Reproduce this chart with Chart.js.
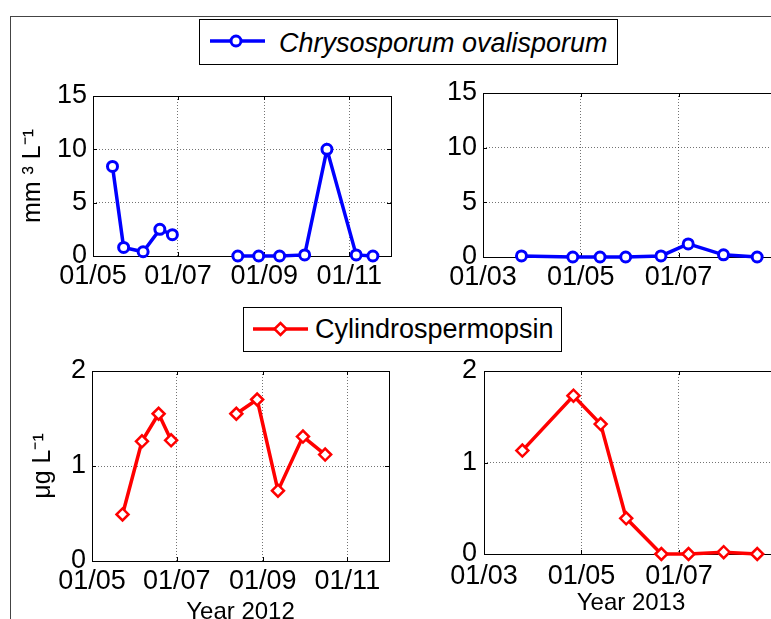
<!DOCTYPE html>
<html>
<head>
<meta charset="utf-8">
<script src="https://cdn.jsdelivr.net/npm/chart.js@4.4.1/dist/chart.umd.min.js"></script>
<style>
  html, body { margin: 0; padding: 0; background: #fff; overflow: hidden; }
  #figura { position: relative; width: 771px; height: 619px; overflow: hidden; font-family: "Liberation Sans", Arial, sans-serif; }
  #moldura { position: absolute; left: 10px; top: 16px; width: 820px; height: 700px; border: 1px solid #444; }
  canvas { position: absolute; }
  .legenda { position: absolute; border: 1px solid #000; background: #fff; box-sizing: border-box; }
  .legenda svg { position: absolute; left: 0; top: 0; }
  .legenda span { position: absolute; font-size: 27px; line-height: 1; white-space: nowrap; color: #000; }
</style>
</head>
<body>
<div id="figura">
  <div id="moldura"></div>
  <canvas id="gChrys2012" width="420" height="260" style="left:0;top:70px"></canvas>
  <canvas id="gChrys2013" width="400" height="260" style="left:400px;top:70px"></canvas>
  <canvas id="gCylin2012" width="420" height="290" style="left:0;top:345px"></canvas>
  <canvas id="gCylin2013" width="400" height="290" style="left:400px;top:345px"></canvas>

  <div class="legenda" style="left:199px;top:19px;width:419px;height:46px">
    <svg width="120" height="44">
      <line x1="10" y1="21" x2="65" y2="21" stroke="#0000ff" stroke-width="3.5"/>
      <circle cx="36" cy="21" r="5" fill="#fff" stroke="#0000ff" stroke-width="3"/>
    </svg>
    <span style="left:79px;top:10px;font-style:italic">Chrysosporum ovalisporum</span>
  </div>
  <div class="legenda" style="left:243px;top:307px;width:319px;height:45px">
    <svg width="120" height="43">
      <line x1="9" y1="21" x2="64" y2="21" stroke="#ff0000" stroke-width="3.5"/>
      <path d="M30.5 21 L36.5 15 L42.5 21 L36.5 27 Z" fill="#fff" stroke="#ff0000" stroke-width="2.5"/>
    </svg>
    <span style="left:71px;top:8px">Cylindrospermopsin</span>
  </div>
</div>

<script>
// Datas de amostragem (a entrada com null marca a interrupção da série)
const datas2012 = ['2012-05-15', '2012-05-23', '2012-06-06', '2012-06-18', '2012-06-27', '2012-07-20',
  '2012-08-13', '2012-08-28', '2012-09-12', '2012-09-30', '2012-10-16', '2012-11-06', '2012-11-18'];
const datas2013 = ['2013-03-25', '2013-04-26', '2013-05-13', '2013-05-29', '2013-06-20', '2013-07-07',
  '2013-07-29', '2013-08-19'];

// Biovolume de Chrysosporum ovalisporum (mm3 L-1)
const chrysos2012 = [8.4, 0.8, 0.4, 2.5, 2.0, null, 0, 0, 0, 0.1, 10.0, 0.1, 0];
const chrysos2013 = [0.1, 0, 0, 0, 0.1, 1.2, 0.2, 0];

// Cilindrospermopsina (ug L-1)
const cylindro2012 = [null, 0.49, 1.26, 1.55, 1.27, null, 1.55, 1.70, 0.74, 1.31, 1.12, null, null];
const cylindro2013 = [1.13, 1.73, 1.42, 0.39, 0, 0, 0.02, 0];

// Eixos
const limites2012 = ['2012-05-01', '2012-12-01'];
const limites2013 = ['2013-03-01', '2013-09-01'];
const marcas2012 = ['2012-05-01', '2012-07-01', '2012-09-01', '2012-11-01'];
const marcas2013 = ['2013-03-01', '2013-05-01', '2013-07-01'];
const rotulos2012 = ['01/05', '01/07', '01/09', '01/11'];
const rotulos2013 = ['01/03', '01/05', '01/07'];
const ticksChrys = [0, 5, 10, 15];
const ticksCylin = [0, 1, 2];

const dia = s => Date.parse(s) / 864e5;

Chart.defaults.font.family = '"Liberation Sans", Arial, sans-serif';
Chart.defaults.color = '#000';

// Caixa preta com marcas internas, estilo MATLAB
const caixaEixos = {
  id: 'caixaEixos',
  beforeDatasetsDraw(chart) {
    const { ctx, chartArea: a, scales: { x, y } } = chart;
    ctx.save();
    ctx.strokeStyle = '#000';
    ctx.lineWidth = 1;
    ctx.beginPath();
    x.ticks.forEach(t => {
      const p = Math.round(x.getPixelForValue(t.value)) + 0.5;
      ctx.moveTo(p, a.bottom); ctx.lineTo(p, a.bottom - 4);
      ctx.moveTo(p, a.top); ctx.lineTo(p, a.top + 4);
    });
    y.ticks.forEach(t => {
      const p = Math.round(y.getPixelForValue(t.value)) + 0.5;
      ctx.moveTo(a.left, p); ctx.lineTo(a.left + 4, p);
      ctx.moveTo(a.right, p); ctx.lineTo(a.right - 4, p);
    });
    ctx.stroke();
    ctx.strokeRect(Math.round(a.left) + 0.5, Math.round(a.top) + 0.5, Math.round(a.width), Math.round(a.height));
    ctx.restore();
  }
};

function criarGrafico(id, c) {
  const pontos = c.datas.map((d, i) => ({ x: dia(d), y: c.valores[i] }));
  const grade = { color: 'rgba(0,0,0,0.55)', lineWidth: 1, drawTicks: false };
  const borda = { display: false, dash: [1, 2] };
  return new Chart(document.getElementById(id), {
    type: 'line',
    data: {
      datasets: [{
        data: pontos,
        borderColor: c.cor,
        borderWidth: 3.5,
        tension: 0,
        clip: false,
        pointStyle: c.marcador,
        pointRadius: c.raio,
        pointBorderWidth: c.marcador === 'circle' ? 3 : 2.5,
        pointBackgroundColor: '#fff',
        pointBorderColor: c.cor
      }]
    },
    options: {
      responsive: false,
      animation: false,
      events: [],
      layout: { padding: c.margem },
      plugins: { legend: { display: false }, tooltip: { enabled: false } },
      scales: {
        x: {
          type: 'linear',
          min: dia(c.limites[0]),
          max: dia(c.limites[1]),
          grid: grade,
          border: borda,
          afterBuildTicks: s => { s.ticks = c.marcas.map(m => ({ value: dia(m) })); },
          afterFit: s => { s.height = c.altX; },
          ticks: { font: { size: 27 }, padding: c.padX, maxRotation: 0, callback: (v, i) => c.rotulos[i] },
          title: c.tituloX
            ? { display: true, text: c.tituloX, font: { size: 24 }, padding: { top: 0, bottom: c.padTituloX } }
            : { display: false }
        },
        y: {
          type: 'linear',
          min: c.ticksY[0],
          max: c.ticksY[c.ticksY.length - 1],
          grid: grade,
          border: borda,
          afterBuildTicks: s => { s.ticks = c.ticksY.map(v => ({ value: v })); },
          afterFit: s => { s.width = c.largY; },
          ticks: { font: { size: 27 }, padding: c.padY },
          title: c.tituloY
            ? { display: true, text: c.tituloY, font: { size: 25 }, padding: { top: c.padTituloY, bottom: 0 } }
            : { display: false }
        }
      }
    },
    plugins: [caixaEixos]
  });
}

criarGrafico('gChrys2012', {
  datas: datas2012, valores: chrysos2012, cor: '#0000ff', marcador: 'circle', raio: 5,
  limites: limites2012, marcas: marcas2012, rotulos: rotulos2012, ticksY: ticksChrys,
  margem: { top: 26, right: 29, bottom: 0, left: 0 }, largY: 93, altX: 74, padX: 4, padY: 6,
  tituloY: 'mm \u00b3 L\u207b\u00b9', padTituloY: 18
});
criarGrafico('gChrys2013', {
  datas: datas2013, valores: chrysos2013, cor: '#0000ff', marcador: 'circle', raio: 5,
  limites: limites2013, marcas: marcas2013, rotulos: rotulos2013, ticksY: ticksChrys,
  margem: { top: 23, right: 22, bottom: 0, left: 0 }, largY: 83, altX: 73, padX: 4, padY: 6
});
criarGrafico('gCylin2012', {
  datas: datas2012, valores: cylindro2012, cor: '#ff0000', marcador: 'rectRot', raio: 6,
  limites: limites2012, marcas: marcas2012, rotulos: rotulos2012, ticksY: ticksCylin,
  margem: { top: 26, right: 31, bottom: 0, left: 0 }, largY: 92, altX: 74, padX: 4, padY: 6,
  tituloY: '\u03bcg L\u207b\u00b9', padTituloY: 28, tituloX: 'Year 2012', padTituloX: 8
});
criarGrafico('gCylin2013', {
  datas: datas2013, valores: cylindro2013, cor: '#ff0000', marcador: 'rectRot', raio: 6,
  limites: limites2013, marcas: marcas2013, rotulos: rotulos2013, ticksY: ticksCylin,
  margem: { top: 26, right: 22, bottom: 0, left: 0 }, largY: 84, altX: 81, padX: 6, padY: 7,
  tituloX: 'Year 2013', padTituloX: 17
});
</script>
</body>
</html>
